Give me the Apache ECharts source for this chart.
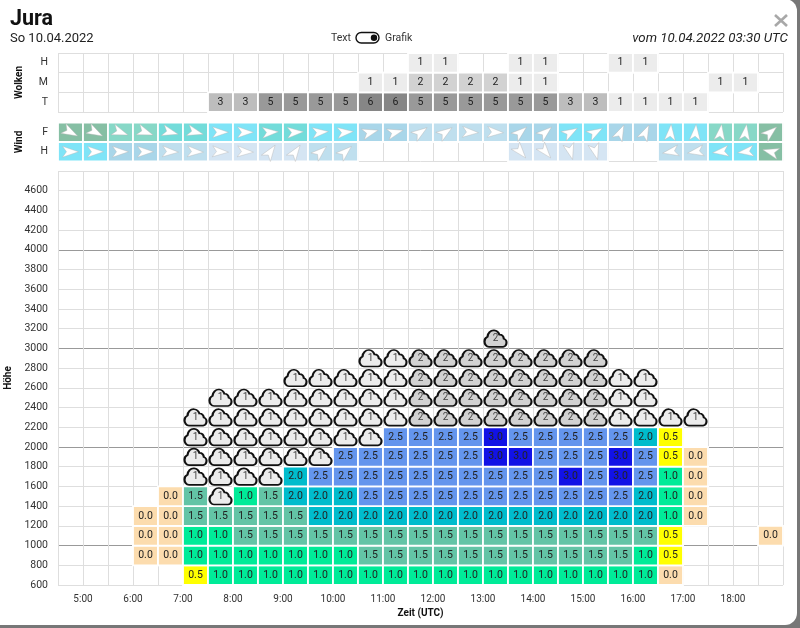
<!DOCTYPE html>
<html>
<head>
<meta charset="utf-8">
<title>Jura</title>
<script src="https://cdn.jsdelivr.net/npm/echarts@6/dist/echarts.min.js"></script>
<style>
html,body{margin:0;padding:0;background:#777;}
#main{width:800px;height:628px;}
</style>
</head>
<body>
<div id="main"></div>
<script>
var font = 'Roboto';
var myChart = echarts.init(document.getElementById('main'));

// Wolken: spalte 0 = 4:30, je halbe stunde
var wolkenH = {14:1,15:1,18:1,19:1,22:1,23:1};
var wolkenM = {12:1,13:1,14:2,15:2,16:2,17:2,18:1,19:1,26:1,27:1};
var wolkenT = {6:3,7:3,8:5,9:5,10:5,11:5,12:6,13:6,14:5,15:5,16:5,17:5,18:5,19:5,20:3,21:3,22:1,23:1,24:1,25:1};
var wolkenColor = {1:'#ececec',2:'#d2d2d2',3:'#bdbdbd',5:'#999999',6:'#868686'};

// Wind: [farbe, richtung in grad gegen uhrzeigersinn]
var W0='#86bfa4',W1='#87d8c7',W2='#73dcda',W3='#7fe4f7',W4='#a9d6e9',W5='#bfdfee',W6='#d5e5f3';
var windF = [[W0,-28],[W0,-28],[W1,-20],[W1,-20],[W2,-15],[W2,-15],[W3,0],[W3,0],[W2,3],[W2,3],[W3,5],[W3,5],
  [W4,15],[W4,15],[W5,35],[W5,35],[W5,-3],[W5,-3],[W4,40],[W4,40],[W3,30],[W3,30],[W4,65],[W4,65],
  [W3,85],[W3,85],[W1,82],[W1,82],[W0,40]];
var windH = [[W3,0],[W3,0],[W4,0],[W4,0],[W5,-3],[W5,-3],[W6,-3],[W6,-3],[W6,55],[W6,55],[W5,42],[W5,42],
  null,null,null,null,null,null,[W6,-50],[W6,-50],[W6,-75],[W6,-75],null,null,
  [W5,190],[W5,190],[W3,187],[W3,187],[W0,165]];

// Steigen pro spalte, von unten (600m) nach oben, null = leer
var steigen = {
  3:[null,0,0,0],
  4:[null,0,0,0,0],
  5:[0.5,1,1,1.5,1.5],
  6:[1,1,1,1.5],
  7:[1,1,1.5,1.5,1],
  8:[1,1,1.5,1.5,1.5],
  9:[1,1,1.5,1.5,2,2],
  10:[1,1,1.5,2,2,2.5],
  11:[1,1,1.5,2,2,2.5,2.5],
  12:[1,1.5,1.5,2,2.5,2.5,2.5],
  13:[1,1.5,1.5,2,2.5,2.5,2.5,2.5],
  14:[1,1.5,1.5,2,2.5,2.5,2.5,2.5],
  15:[1,1.5,1.5,2,2.5,2.5,2.5,2.5],
  16:[1,1.5,1.5,2,2.5,2.5,2.5,2.5],
  17:[1,1.5,1.5,2,2.5,2.5,3,3],
  18:[1,1.5,1.5,2,2.5,2.5,3,2.5],
  19:[1,1.5,1.5,2,2.5,2.5,2.5,2.5],
  20:[1,1.5,1.5,2,2.5,3,2.5,2.5],
  21:[1,1.5,1.5,2,2.5,2.5,2.5,2.5],
  22:[1,1.5,1.5,2,2.5,3,3,2.5],
  23:[1,1,1.5,2,2,2.5,2.5,2],
  24:[0,0.5,0.5,1,1,1,0.5,0.5],
  25:[null,null,null,0,0,0,0],
  28:[null,null,0]
};
var steigenColor = {0:'#fcdcae',0.5:'#ffff00',1:'#00eb98',1.5:'#63c4a6',2:'#00bccc',2.5:'#6495ed',3:'#1212e6'};

// Wolkensymbole: [spalte, unterste zeile, oberste zeile, stufe]
var wolkenBloecke = [
  [5,5,8,1],[6,4,9,1],[7,5,9,1],[8,5,9,1],[9,6,10,1],[10,6,10,1],[11,7,10,1],[12,7,11,1],[13,8,11,1],
  [14,8,11,2],[15,8,11,2],[16,8,11,2],[17,8,12,2],[18,8,11,2],[19,8,11,2],[20,8,11,2],[21,8,11,2],
  [22,8,10,1],[23,8,10,1],[24,8,8,1],[25,8,8,1]
];

var wolkePfad = 'path://M7 22A6 6 0 0 1 5 10.4A8 8 0 0 1 20.4 8A5 5 0 0 1 26 12.6A4.8 4.8 0 0 1 25 22Z';
var pfeilPfad = 'path://M24 10L0 0L6 10L0 20Z';

// zelle als rechteck, weisser rand verdeckt die gitterlinien
function cellShapes(x, y, w, h, color, text){
  var cell = {
    type: 'rect', silent: true,
    shape: {x: x, y: y, width: w, height: h},
    style: {fill: color, stroke: '#fff', lineWidth: 1.8}
  };
  if(text !== ''){
    cell.textContent = {type: 'text', style: {text: text, fill: '#222', fontFamily: font, fontSize: 10.5}};
    cell.textConfig = {position: 'inside'};
  }
  return cell;
}

// zeilen mit kategorieachse (wolken, wind)
function renderRow(params, api){
  var a = api.coord([api.value(0), api.value(1)]);
  var b = api.coord([api.value(0) + 0.5, api.value(1)]);
  var h = api.size([0, 1])[1];
  return cellShapes(a[0], a[1] - h / 2, b[0] - a[0], h, api.visual('color'), params.context.text ? String(api.value(2)) : '');
}
// hauptgitter mit hoehenachse
function renderSteigen(params, api){
  var a = api.coord([api.value(0), api.value(1) + 200]);
  var b = api.coord([api.value(0) + 0.5, api.value(1)]);
  return cellShapes(a[0], a[1], b[0] - a[0], b[1] - a[1], api.visual('color'), api.value(2).toFixed(1));
}

var hoursAxis = function(gridIndex, show){
  return {
    type: 'value', gridIndex: gridIndex, min: 4.5, max: 19, interval: 0.5,
    position: 'bottom',
    axisLine: {show: false}, axisTick: {show: false},
    axisLabel: {show: show, color: '#333', fontFamily: font, fontSize: 10, margin: 9,
      formatter: function(v){ return Number.isInteger(v) && v < 19 ? v + ':00' : ''; }},
    splitLine: {show: true, lineStyle: {color: '#dedede', width: 1}},
    name: show ? 'Zeit (UTC)' : '',
    nameLocation: 'middle', nameGap: 19,
    nameTextStyle: {color: '#111', fontFamily: font, fontSize: 10, fontWeight: 'bold'}
  };
};

var rowAxis = function(gridIndex, labels, name){
  return {
    type: 'category', gridIndex: gridIndex, data: labels,
    axisLine: {show: false}, axisTick: {show: false},
    axisLabel: {color: '#333', fontFamily: font, fontSize: 10.5, margin: 10},
    splitLine: {show: true, lineStyle: {color: '#dedede', width: 1}},
    name: name, nameLocation: 'middle', nameGap: 34, nameRotate: 90,
    nameTextStyle: {color: '#111', fontFamily: font, fontSize: 10, fontWeight: 'bold'}
  };
};

var wolkenData = [];
[[wolkenT,0],[wolkenM,1],[wolkenH,2]].forEach(function(r){
  Object.keys(r[0]).forEach(function(k){
    var v = r[0][k];
    wolkenData.push({value: [4.5 + k * 0.5, r[1], v], itemStyle: {color: wolkenColor[v]}});
  });
});

var windCells = [], windArrows = [];
[[windH,0],[windF,1]].forEach(function(r){
  r[0].forEach(function(w, i){
    if(!w) return;
    windCells.push({value: [4.5 + i * 0.5, r[1], 0], itemStyle: {color: w[0]}});
    windArrows.push({value: [4.75 + i * 0.5, r[1]], symbolRotate: w[1]});
  });
});

var steigenData = [];
Object.keys(steigen).forEach(function(k){
  steigen[k].forEach(function(v, r){
    if(v === null) return;
    steigenData.push({value: [4.5 + k * 0.5, 600 + r * 200, v], itemStyle: {color: steigenColor[v]}});
  });
});

var wolkenSymbole = [];
wolkenBloecke.forEach(function(b){
  for(var r = b[1]; r <= b[2]; r++){
    wolkenSymbole.push({value: [4.75 + b[0] * 0.5, 700 + r * 200, b[3]],
      itemStyle: {color: b[3] === 2 ? '#d2d2d2' : '#ececec'}});
  }
});

myChart.setOption({
  animation: false,
  title: [
    {text: 'Jura', left: 10, top: 9, padding: 0, textStyle: {color: '#111', fontFamily: font, fontSize: 21.5, fontWeight: 'bold'}},
    {text: 'So 10.04.2022', left: 10, top: 32, padding: 0, textStyle: {color: '#222', fontFamily: font, fontSize: 13, fontWeight: 'normal'}},
    {text: 'vom 10.04.2022 03:30 UTC', right: 12, top: 32, padding: 0, textStyle: {color: '#222', fontFamily: font, fontSize: 13.3, fontWeight: 'normal', fontStyle: 'italic'}},
    {text: 'Text', left: 331, top: 33, padding: 0, textStyle: {color: '#333', fontFamily: font, fontSize: 10.5, fontWeight: 'normal'}},
    {text: 'Grafik', left: 385, top: 33, padding: 0, textStyle: {color: '#333', fontFamily: font, fontSize: 10.5, fontWeight: 'normal'}}
  ],
  graphic: [
    // modal mit runden ecken
    {type: 'rect', z: -10, silent: true, shape: {x: -12, y: -1, width: 809, height: 626, r: 12}, style: {fill: '#fff'}},
    {type: 'rect', shape: {x: 356, y: 32.5, width: 23, height: 10.5, r: 5.25}, style: {fill: '#fff', stroke: '#111', lineWidth: 1.4}},
    {type: 'circle', shape: {cx: 374, cy: 37.8, r: 3.2}, style: {fill: '#111'}},
    {type: 'line', shape: {x1: 775, y1: 15, x2: 787, y2: 26}, style: {stroke: '#a8a8a8', lineWidth: 2.6}},
    {type: 'line', shape: {x1: 787, y1: 15, x2: 775, y2: 26}, style: {stroke: '#a8a8a8', lineWidth: 2.6}}
  ],
  grid: [
    {left: 58, width: 725, top: 53, height: 59, outerBoundsMode: 'none'},
    {left: 58, width: 725, top: 122.5, height: 39, outerBoundsMode: 'none'},
    {left: 58, width: 725, top: 171, height: 414, outerBoundsMode: 'none'}
  ],
  xAxis: [hoursAxis(0, false), hoursAxis(1, false), hoursAxis(2, true)],
  yAxis: [
    rowAxis(0, ['T','M','H'], 'Wolken'),
    rowAxis(1, ['H','F'], 'Wind'),
    {
      type: 'value', gridIndex: 2, min: 600, max: 4800, interval: 200,
      axisLine: {show: false}, axisTick: {show: false},
      axisLabel: {color: '#333', fontFamily: font, fontSize: 10.5, margin: 10,
        formatter: function(v){ return v === 4800 ? '' : v; }},
      // jede 1000m dunkler
      splitLine: {show: true, lineStyle: {color: ['#dedede','#dedede','#999999','#dedede','#dedede'], width: 1}},
      name: 'Höhe', nameLocation: 'middle', nameGap: 34, nameRotate: 90,
      nameTextStyle: {color: '#111', fontFamily: font, fontSize: 10, fontWeight: 'bold'}
    }
  ],
  series: [
    {
      type: 'custom', xAxisIndex: 0, yAxisIndex: 0, renderItem: function(p, api){ p.context.text = true; return renderRow(p, api); },
      data: wolkenData, encode: {x: 0, y: 1}
    },
    {
      type: 'custom', xAxisIndex: 1, yAxisIndex: 1, renderItem: renderRow,
      data: windCells, encode: {x: 0, y: 1}
    },
    {
      type: 'scatter', xAxisIndex: 1, yAxisIndex: 1, data: windArrows, z: 3,
      symbol: pfeilPfad, symbolSize: [16, 11],
      itemStyle: {color: '#fff', borderColor: '#b5b5b5', borderWidth: 0.4, opacity: 1}
    },
    {
      type: 'custom', xAxisIndex: 2, yAxisIndex: 2, renderItem: renderSteigen,
      data: steigenData, encode: {x: 0, y: 1}
    },
    {
      type: 'scatter', xAxisIndex: 2, yAxisIndex: 2, data: wolkenSymbole, z: 3,
      symbol: wolkePfad, symbolSize: [22, 16.5],
      itemStyle: {borderColor: '#111', borderWidth: 1.9, opacity: 1},
      label: {show: true, position: 'inside', color: '#444', fontFamily: font, fontSize: 10,
        formatter: function(p){ return p.value[2]; }}
    }
  ]
});
window.addEventListener("resize",function(){
  myChart.resize();
});
</script>
</body>
</html>
